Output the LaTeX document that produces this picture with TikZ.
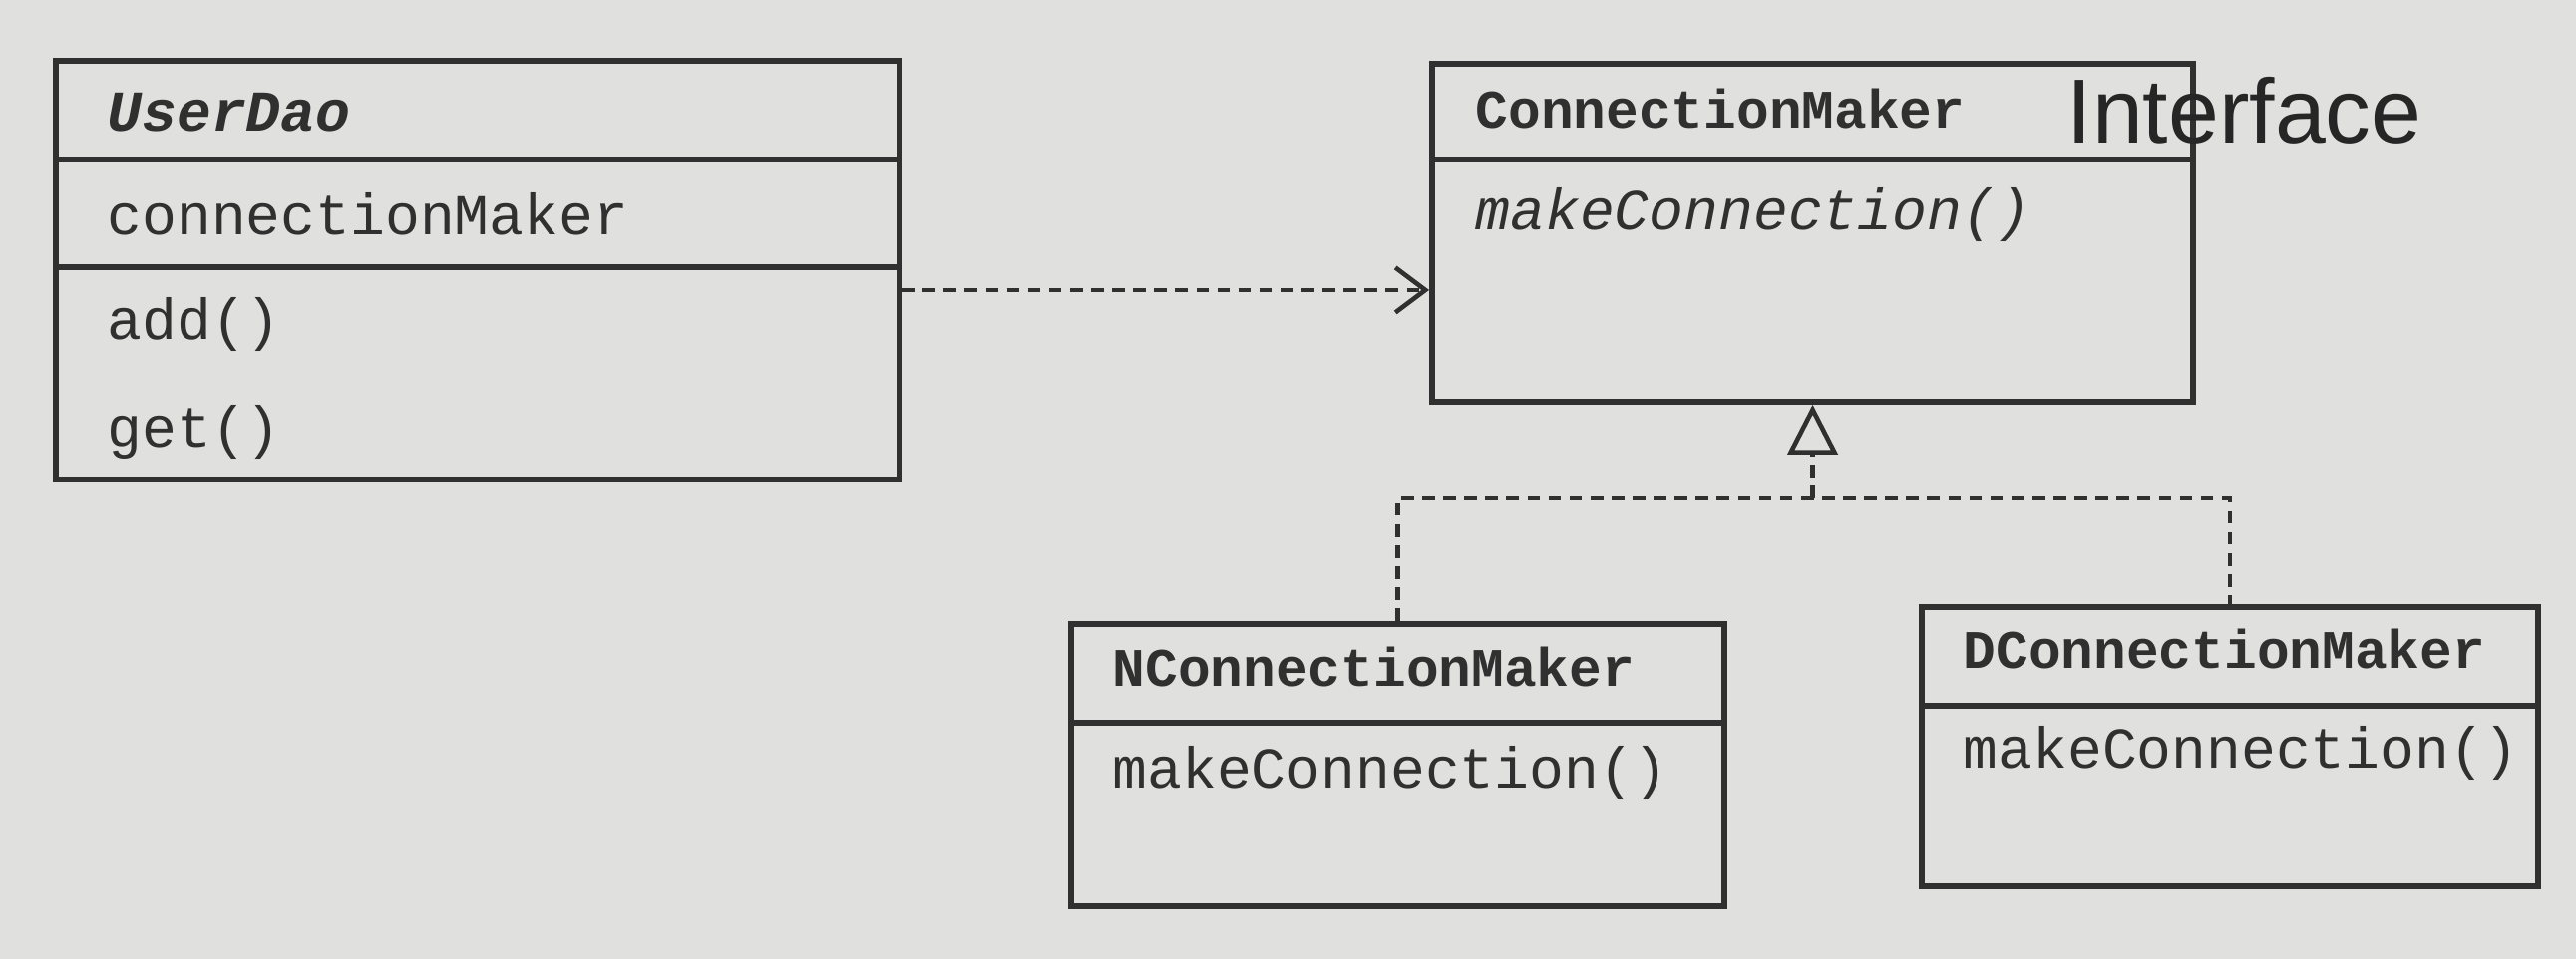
\documentclass[tikz,border=0pt]{standalone}
\usepackage{fontspec}
\setmonofont{Liberation Mono}
\newfontfamily\handfont{Liberation Sans}
\usetikzlibrary{arrows.meta,calc}
\definecolor{paper}{RGB}{224,224,222}
\definecolor{ink}{RGB}{48,48,48}
\begin{document}
\begin{tikzpicture}[x=0.01cm, y=-0.01cm,
  box/.style={draw=ink, line width=1.6pt, inner sep=0pt, anchor=north west},
  div/.style={draw=ink, line width=1.6pt},
  txt/.style={anchor=west, inner sep=0pt, text=ink, text height=1.6ex, text depth=0.45ex,
              yshift=-0.08cm, font=\ttfamily\fontsize{16.5}{18}\selectfont},
  ttl/.style={txt, font=\ttfamily\bfseries\fontsize{15.5}{18}\selectfont},
  dep/.style={draw=ink, line width=1.3pt, dash pattern=on 3.6pt off 2.4pt,
              -{Straight Barb[length=0.3cm, width=0.45cm, line width=1.3pt]}},
  impl/.style={draw=ink, line width=1.2pt, dash pattern=on 3.6pt off 2.4pt,
              -{Triangle[open, length=0.5cm, width=0.5cm, line width=1.3pt]}},
  real/.style={draw=ink, line width=1.2pt, dash pattern=on 3.6pt off 2.4pt}
]
\useasboundingbox[fill=paper] (0,0) rectangle (2583,962);

% UserDao
\node[box, minimum width=8.45cm, minimum height=4.2cm] (ud) at (53,58) {};
\draw[div] ($(ud.north west)+(0,102)$) -- ($(ud.north east)+(0,102)$);
\draw[div] ($(ud.north west)+(0,210)$) -- ($(ud.north east)+(0,210)$);
\node[txt, font=\ttfamily\bfseries\itshape\fontsize{16.5}{18}\selectfont] (udt) at (107,115) {UserDao};
\node[txt] (uda) at (107,219) {connectionMaker};
\node[txt] (udm1) at (107,324) {add()};
\node[txt] (udm2) at (107,432) {get()};

% ConnectionMaker
\node[box, minimum width=7.63cm, minimum height=3.39cm] (cm) at (1433,61) {};
\draw[div] ($(cm.north west)+(0,99)$) -- ($(cm.north east)+(0,99)$);
\node[ttl] (cmt) at (1479,112) {ConnectionMaker};
\node[txt, font=\ttfamily\itshape\fontsize{16.5}{18}\selectfont] (cmm) at (1479,214) {makeConnection()};
\node[anchor=west, inner sep=0pt, text=black!85, font=\handfont\fontsize{26}{28}\selectfont] (iface) at (2072,111) {Interface};

% NConnectionMaker
\node[box, minimum width=6.55cm, minimum height=2.83cm] (n) at (1071,623) {};
\draw[div] ($(n.north west)+(0,102)$) -- ($(n.north east)+(0,102)$);
\node[ttl] (nt) at (1115,672) {NConnectionMaker};
\node[txt] (nm) at (1115,774) {makeConnection()};

% DConnectionMaker
\node[box, minimum width=6.18cm, minimum height=2.8cm] (d) at (1924,606) {};
\draw[div] ($(d.north west)+(0,102)$) -- ($(d.north east)+(0,102)$);
\node[ttl] (dt) at (1968,654) {DConnectionMaker};
\node[txt] (dm) at (1968,754) {makeConnection()};

% connectors
\draw[dep] ([yshift=-0.2cm]ud.east) -- ([yshift=-0.2cm]ud.east -| cm.west);
\path (cm.south) ++(0,94) coordinate (j);
\draw[real] (n.north) |- (j) -| (d.north);
\draw[impl] (j) -- (cm.south);
\end{tikzpicture}
\end{document}
